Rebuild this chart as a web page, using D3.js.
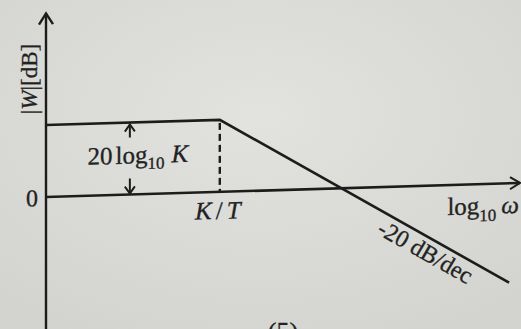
<!DOCTYPE html>
<html>
<head>
<meta charset="utf-8">
<script src="https://cdn.jsdelivr.net/npm/d3@7"></script>
<style>
  body { margin: 0; background: #d9d9d5; }
  svg { display: block; }
  text { font-family: "Liberation Serif", "Times New Roman", serif; fill: #222; stroke: #222; stroke-width: 0.3px; }
</style>
</head>
<body>
<div id="chart"></div>
<script>
var width = 521, height = 329;

// asymptotic magnitude curve (log10 omega, dB)
let logOmega = [0, 1.43, 3.81];
let magDb = [20, 20, -27.6];
let breakLog = 1.43;     // K/T
let gainDb = 20;         // 20 log10 K
let arrowLog = 0.69;     // where the gain arrows sit

var svg = d3.select('#chart')
    .append('svg')
    .attr('width', width)
    .attr('height', height);

// paper background, a bit lighter in the middle
var defs = svg.append('defs');
var grad = defs.append('radialGradient').attr('id', 'paper')
    .attr('cx', '50%').attr('cy', '35%').attr('r', '75%');
grad.append('stop').attr('offset', '0%').attr('stop-color', '#e2e2de');
grad.append('stop').attr('offset', '100%').attr('stop-color', '#d3d3cf');
svg.append('rect').attr('width', width).attr('height', height).attr('fill', 'url(#paper)');

let x = d3.scaleLinear().domain([0, 3.9]).range([0, 474]);
let y = d3.scaleLinear().domain([-37, 51]).range([330.2, 13.4]);

// the photo is slightly tilted
var g = svg.append('g').attr('transform', 'translate(46,0) skewY(-1.7)');

var ink = '#1c1c1c';

// vertical axis
g.append('line')
    .attr('x1', 0).attr('x2', 0)
    .attr('y1', y(-37)).attr('y2', y(51))
    .attr('stroke', ink).attr('stroke-width', 2.4);
g.append('path')
    .attr('d', 'M' + (-7) + ',' + (y(51) + 11) + 'L0,' + y(51) + 'L7,' + (y(51) + 11))
    .attr('fill', 'none').attr('stroke', ink).attr('stroke-width', 2.4);

// horizontal axis (0 dB)
g.append('line')
    .attr('x1', 0).attr('x2', x(3.9))
    .attr('y1', y(0)).attr('y2', y(0))
    .attr('stroke', ink).attr('stroke-width', 2.6);
g.append('path')
    .attr('d', 'M' + (x(3.9) - 10) + ',' + (y(0) - 6) + 'L' + x(3.9) + ',' + y(0) + 'L' + (x(3.9) - 10) + ',' + (y(0) + 6))
    .attr('fill', 'none').attr('stroke', ink).attr('stroke-width', 2);

// asymptote
var line = d3.line()
    .x((d, i) => x(logOmega[i]))
    .y((d, i) => y(magDb[i]));
g.append('path')
    .datum(logOmega)
    .attr('d', line)
    .attr('fill', 'none')
    .attr('stroke', ink)
    .attr('stroke-width', 2.6);

// dashed line at K/T
g.append('line')
    .attr('x1', x(breakLog)).attr('x2', x(breakLog))
    .attr('y1', y(gainDb) + 3).attr('y2', y(0))
    .attr('stroke', ink).attr('stroke-width', 2.4)
    .attr('stroke-dasharray', '7,4');

// gain arrows
var ax = x(arrowLog);
g.append('line').attr('x1', ax).attr('x2', ax)
    .attr('y1', y(gainDb) + 2).attr('y2', y(gainDb) + 15)
    .attr('stroke', ink).attr('stroke-width', 2);
g.append('path')
    .attr('d', 'M' + (ax - 5) + ',' + (y(gainDb) + 9) + 'L' + ax + ',' + (y(gainDb) + 2) + 'L' + (ax + 5) + ',' + (y(gainDb) + 9))
    .attr('fill', 'none').attr('stroke', ink).attr('stroke-width', 2);
g.append('line').attr('x1', ax).attr('x2', ax)
    .attr('y1', y(0) - 16).attr('y2', y(0) - 1)
    .attr('stroke', ink).attr('stroke-width', 2);
g.append('path')
    .attr('d', 'M' + (ax - 5) + ',' + (y(0) - 8) + 'L' + ax + ',' + (y(0) - 1) + 'L' + (ax + 5) + ',' + (y(0) - 8))
    .attr('fill', 'none').attr('stroke', ink).attr('stroke-width', 2);

// labels
var gainText = g.append('text')
    .attr('x', ax + 8).attr('y', y(gainDb / 2) + 5)
    .attr('text-anchor', 'middle')
    .style('font-size', '25px');
gainText.append('tspan').text('20');
gainText.append('tspan').attr('dx', 3).text('log');
gainText.append('tspan').attr('dy', 6).style('font-size', '17px').text('10');
gainText.append('tspan').attr('dy', -6).attr('dx', 7).style('font-style', 'italic').text('K');

var ktText = g.append('text')
    .attr('x', x(breakLog) - 2).attr('y', y(0) + 27)
    .attr('text-anchor', 'middle')
    .style('font-size', '25px')
    .style('font-style', 'italic');
ktText.append('tspan').text('K');
ktText.append('tspan').attr('dx', 4).style('font-style', 'normal').text('/');
ktText.append('tspan').attr('dx', 4).text('T');

g.append('text')
    .attr('x', -14).attr('y', y(0) + 9)
    .attr('text-anchor', 'middle')
    .style('font-size', '24px')
    .text('0');

var yLab = svg.append('text')
    .attr('transform', 'translate(37,79) rotate(-90)')
    .attr('text-anchor', 'middle')
    .style('font-size', '23px');
yLab.append('tspan').text('|');
yLab.append('tspan').style('font-style', 'italic').text('W');
yLab.append('tspan').text('|[dB]');

var xLab = g.append('text')
    .attr('x', x(3.9) - 1).attr('y', y(0) + 30)
    .attr('text-anchor', 'end')
    .style('font-size', '25px');
xLab.append('tspan').text('log');
xLab.append('tspan').attr('dy', 7).style('font-size', '17px').text('10');
xLab.append('tspan').attr('dy', -7).attr('dx', 5).style('font-style', 'italic').text('\u03c9');

// slope label along the falling line
var angle = Math.atan2(y(magDb[2]) - y(magDb[1]), x(logOmega[2]) - x(logOmega[1])) * 180 / Math.PI;
var sx = x(3.18), sy = y(-15);
g.append('text')
    .attr('transform', 'translate(' + sx + ',' + sy + ') rotate(' + angle + ')')
    .attr('y', 22)
    .attr('text-anchor', 'middle')
    .style('font-size', '24px')
    .text('-20 dB/dec');

// figure number, cut off at the bottom as in the photo
svg.append('text')
    .attr('x', 283).attr('y', 340)
    .attr('text-anchor', 'middle')
    .style('font-size', '26px')
    .text('(5)');
</script>
</body>
</html>
